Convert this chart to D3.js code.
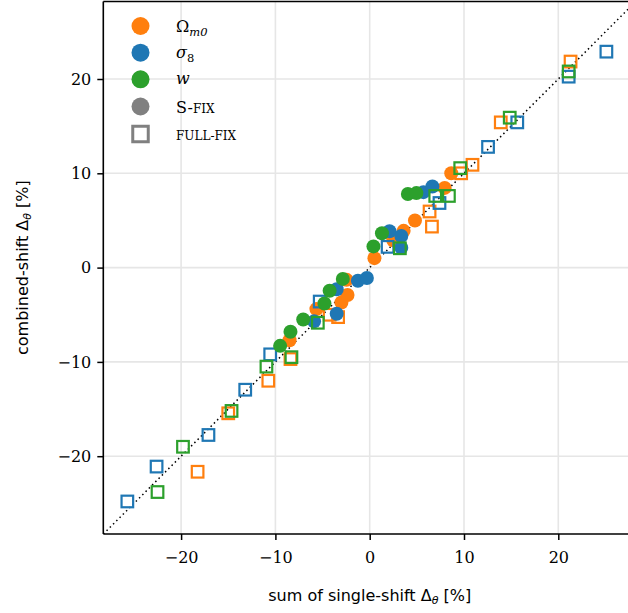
<!DOCTYPE html>
<html><head><meta charset="utf-8">
<script src="https://d3js.org/d3.v7.min.js"></script>
<style>body{margin:0;background:#fff}</style>
</head><body>
<script>
// S-FIX (circles) and FULL-FIX (squares) data: [sum of single-shift, combined-shift]
const omegaSfix = [[-8.5,-7.7],[-5.65,-4.4],[-3.0,-3.7],[-2.35,-2.9],[-2.45,-1.3],[0.5,1.0],[2.5,2.9],[3.6,3.9],[4.8,5.0],[7.95,8.45],[8.65,10.0]];
const omegaFull = [[-18.25,-21.65],[-15.0,-15.45],[-10.75,-12.0],[-8.4,-9.7],[-4.25,-5.0],[-3.35,-5.25],[6.35,5.95],[6.6,4.35],[9.7,10.0],[10.9,10.9],[13.9,15.4],[21.3,21.85]];
const sigmaSfix = [[-5.9,-5.7],[-3.5,-4.9],[-3.5,-2.3],[-1.25,-1.4],[-0.3,-1.1],[2.1,3.85],[3.35,3.35],[3.35,2.1],[5.7,8.0],[6.65,8.6]];
const sigmaFull = [[-25.7,-24.8],[-22.6,-21.1],[-17.1,-17.75],[-13.2,-12.95],[-10.55,-9.2],[-5.3,-3.6],[1.9,2.2],[7.4,6.85],[12.55,12.8],[15.65,15.4],[21.1,20.25],[25.1,22.9]];
const wSfix = [[-9.5,-8.3],[-8.4,-6.8],[-7.05,-5.5],[-4.8,-3.8],[-4.25,-2.45],[-2.85,-1.2],[0.4,2.25],[1.3,3.65],[4.05,7.8],[4.95,7.9]];
const wFull = [[-22.5,-23.8],[-19.8,-19.0],[-14.65,-15.2],[-10.95,-10.5],[-8.3,-9.5],[-5.5,-5.85],[3.2,2.05],[6.95,7.6],[8.4,7.6],[9.6,10.55],[14.85,15.9],[21.1,20.8]];
const xTicks = [-20,-10,0,10,20];
const yTicks = [-20,-10,0,10,20];
const colors = {omega:"#ff7f0e", sigma:"#1f77b4", w:"#2ca02c", gray:"#808080"};

const W = 628, H = 613;
const svg = d3.select("body").append("svg").attr("width",W).attr("height",H)
  .style("font-family","'DejaVu Serif', 'Liberation Serif', serif");

const x = d3.scaleLinear().domain([-28.25, 28.25]).range([103.3, 103.3 + 56.5*9.43]);
const y = d3.scaleLinear().domain([-28.25, 28.25]).range([534, 534 - 56.5*9.43]);

svg.append("clipPath").attr("id","clip").append("rect")
  .attr("x",103.3).attr("y",y(28.25)).attr("width",x(28.25)-103.3).attr("height",534-y(28.25));

// grid
const g = svg.append("g").attr("clip-path","url(#clip)");
g.selectAll(".gx").data(xTicks).join("line").attr("x1",d=>x(d)).attr("x2",d=>x(d))
  .attr("y1",y(28.25)).attr("y2",534).attr("stroke","#e6e6e6").attr("stroke-width",1.6);
g.selectAll(".gy").data(yTicks).join("line").attr("y1",d=>y(d)).attr("y2",d=>y(d))
  .attr("x1",103.3).attr("x2",x(28.25)).attr("stroke","#e6e6e6").attr("stroke-width",1.6);

// diagonal
g.append("line").attr("x1",x(-28.25)).attr("y1",y(-28.25)).attr("x2",x(28.25)).attr("y2",y(28.25))
  .attr("stroke","#000").attr("stroke-width",1.5).attr("stroke-dasharray","1.5,3.1");

const R = 7, S = 11.6;
function circles(data,c){
  g.append("g").selectAll("circle").data(data).join("circle")
    .attr("cx",d=>x(d[0])).attr("cy",d=>y(d[1])).attr("r",R).attr("fill",c);
}
function squares(data,c){
  g.append("g").selectAll("rect").data(data).join("rect")
    .attr("x",d=>x(d[0])-S/2).attr("y",d=>y(d[1])-S/2).attr("width",S).attr("height",S)
    .attr("fill","none").attr("stroke",c).attr("stroke-width",2.2);
}
circles(omegaSfix,colors.omega); squares(omegaFull,colors.omega);
circles(sigmaSfix,colors.sigma); squares(sigmaFull,colors.sigma);
circles(wSfix,colors.w); squares(wFull,colors.w);

// axes
const xAxis = d3.axisBottom(x).tickValues(xTicks).tickSize(6).tickPadding(9)
  .tickFormat(d=>d<0?"\u2212"+Math.abs(d):d);
const yAxis = d3.axisLeft(y).tickValues(yTicks).tickSize(6).tickPadding(6)
  .tickFormat(d=>d<0?"\u2212"+Math.abs(d):d);
const gx = svg.append("g").attr("transform","translate(0,534)").call(xAxis);
const gy = svg.append("g").attr("transform","translate(103.3,0)").call(yAxis);
[gx,gy].forEach(a=>{
  a.select(".domain").remove();
  a.selectAll(".tick line").attr("stroke","#000").attr("stroke-width",1.5);
  a.selectAll(".tick text").attr("fill","#000").style("font-size","16px")
    .style("font-family","'DejaVu Serif', 'Liberation Serif', serif");
});
gx.selectAll(".tick text").attr("dy","0.9em");
// spines
svg.append("line").attr("x1",103.3).attr("x2",W).attr("y1",534).attr("y2",534).attr("stroke","#000").attr("stroke-width",1.6);
svg.append("line").attr("x1",103.3).attr("x2",W).attr("y1",1.5).attr("y2",1.5).attr("stroke","#000").attr("stroke-width",1.6);
svg.append("line").attr("x1",103.3).attr("x2",103.3).attr("y1",1.5).attr("y2",534).attr("stroke","#000").attr("stroke-width",1.6);

// axis labels
const xl = svg.append("text").attr("x",x(0)).attr("y",601).attr("text-anchor","middle")
  .style("font-family","'DejaVu Sans', sans-serif").style("font-size","16px");
xl.append("tspan").text("sum of single-shift \u0394");
xl.append("tspan").text("\u03b8").style("font-style","italic").style("font-size","11px").attr("dy",3);
xl.append("tspan").text(" [%]").attr("dy",-3);
const yl = svg.append("text").attr("transform",`translate(28,${y(0)}) rotate(-90)`).attr("text-anchor","middle")
  .style("font-family","'DejaVu Sans', sans-serif").style("font-size","16px");
yl.append("tspan").text("combined-shift \u0394");
yl.append("tspan").text("\u03b8").style("font-style","italic").style("font-size","11px").attr("dy",3);
yl.append("tspan").text(" [%]").attr("dy",-3);

// legend
const lg = svg.append("g");
const lx = 140.5, tx = 176, ly = [26, 52.7, 79.3, 106.5, 134];
const lc = [colors.omega, colors.sigma, colors.w, colors.gray];
const LS = 15.5;
lc.forEach((c,i)=>lg.append("circle").attr("cx",lx).attr("cy",ly[i]).attr("r",9).attr("fill",c));
lg.append("rect").attr("x",lx-LS/2).attr("y",ly[4]-LS/2).attr("width",LS).attr("height",LS)
  .attr("fill","none").attr("stroke",colors.gray).attr("stroke-width",3);
const fs = 16;
let t = lg.append("text").attr("x",tx).attr("y",ly[0]+6).style("font-size",fs+"px");
t.append("tspan").text("\u03a9");
t.append("tspan").text("m0").style("font-style","italic").style("font-size","11.5px").attr("dy",4);
t = lg.append("text").attr("x",tx).attr("y",ly[1]+5).style("font-size",fs+"px");
t.append("tspan").text("\u03c3").style("font-style","italic");
t.append("tspan").text("8").style("font-size","11.5px").attr("dy",4);
t = lg.append("text").attr("x",tx).attr("y",ly[2]+5).style("font-size",fs+"px");
t.append("tspan").text("w").style("font-style","italic");
t = lg.append("text").attr("x",tx).attr("y",ly[3]+6).style("font-size",fs+"px");
t.append("tspan").text("S-");
t.append("tspan").text("FIX").style("font-size","12px");
t = lg.append("text").attr("x",tx).attr("y",ly[4]+6).style("font-size","12px");
t.append("tspan").text("FULL-FIX");
</script>
</body></html>
